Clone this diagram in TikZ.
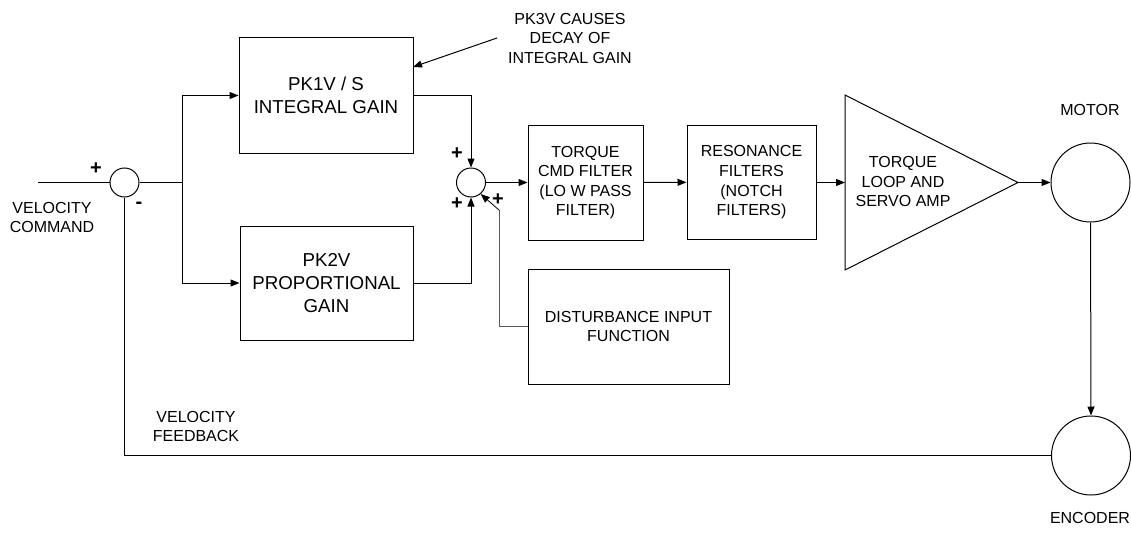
\documentclass[tikz,border=0pt]{standalone}
\usepackage{fontspec}
\setmainfont{Liberation Sans}
\usetikzlibrary{arrows.meta,calc}
\begin{document}
\begin{tikzpicture}[x=1pt,y=-1pt,
  line width=1pt,
  >={Triangle[length=9pt,width=7pt]},
  blk/.style={draw,rectangle,inner sep=0pt,align=center,font=\fontsize{16}{19.6}\selectfont},
  bigblk/.style={blk,font=\fontsize{18.7}{23}\selectfont},
  sumj/.style={draw,circle,inner sep=0pt,minimum size=29pt},
  big/.style={draw,circle,inner sep=0pt,minimum size=79pt},
  lbl/.style={inner sep=0pt,align=center,font=\fontsize{16}{19.5}\selectfont},
  sgn/.style={inner sep=0pt,font=\fontsize{20}{20}\selectfont\bfseries}]
\useasboundingbox (0,0) rectangle (1131,535);

% blocks
\node[bigblk,minimum width=174pt,minimum height=115pt] (int) at (326,95.5) {PK1V / S\\INTEGRAL GAIN};
\node[bigblk,minimum width=173pt,minimum height=114pt] (prop) at (326.5,283) {PK2V\\PROPORTIONAL\\GAIN};
\node[blk,minimum width=115pt,minimum height=115pt] (tcmd) at (585.5,182.5) {TORQUE\\CMD FILTER\\(LO W PASS\\FILTER)};
\node[blk,minimum width=129pt,minimum height=114.5pt] (res) at (751.5,182.3) {RESONANCE\\FILTERS\\(NOTCH\\FILTERS)};
\node[blk,minimum width=201pt,minimum height=115pt] (dist) at (628.5,326.5) {DISTURBANCE INPUT\\FUNCTION};

% amplifier triangle
\coordinate (ampin) at (845,182.5);
\coordinate (ampout) at (1018,182.5);
\draw (845,95) -- (ampout) -- (845,270) -- cycle;
\node[lbl] (amptxt) at (903,181.5) {TORQUE\\LOOP AND\\SERVO AMP};

% junctions
\node[sumj] (s1) at (124.5,182.5) {};
\node[sumj] (s2) at (471,182.5) {};
\node[big] (motor) at (1090.5,182.5) {};
\node[big] (enc) at (1091,455.5) {};

% labels
\node[lbl] (vcmd) at (52,217.5) {VELOCITY\\COMMAND};
\node[lbl] (vfb) at (196,426.5) {VELOCITY\\FEEDBACK};
\node[lbl] (pk3) at (570,38) {PK3V CAUSES\\DECAY OF\\INTEGRAL GAIN};
\node[lbl] (mot) at (1090,110) {MOTOR};
\node[lbl] (encl) at (1090,518) {ENCODER};

% signs
\node[sgn] (p1) at (96,169) {+};
\node[sgn] (m1) at (139,205) {-};
\node[sgn] (p2) at (457,154) {+};
\node[sgn] (p3) at (457,204) {+};
\node[sgn] (p4) at (498,200) {+};

% connectors
\coordinate (vin) at (38,182.5);
\coordinate (split) at (182,182.5);
\coordinate (splitT) at (182,95.5);
\coordinate (splitB) at (182,283);
\draw (vin) -- (s1.west);
\draw (s1.east) -- (split);
\draw (splitT) -- (splitB);
\draw[->] (splitT) -- (int.west);
\draw[->] (splitB) -- (prop.west);
\draw[->] (int.east |- splitT) -| (s2.north);
\draw[->] (prop.east |- splitB) -| (s2.south);
\draw[->] (s2.east) -- (tcmd.west);
\draw[->] (tcmd.east) -- (res.west);
\draw[->] (res.east |- ampin) -- (ampin);
\draw[->] (ampout) -- (motor.west);
\draw[->] (motor.south) -- (enc.north);
\draw (enc.west) -| (s1.south);

% disturbance
\coordinate (dcorner) at (499,326.5);
\coordinate (dup) at (499,210);
\draw[gray!70!black,line width=0.8pt] (dist.west) -- (dcorner) -- (dup);
\draw[->,line width=0.8pt] (dup) -- (s2.-50);

% PK3V annotation arrow
\coordinate (pkfrom) at (497,38);
\coordinate (pkto) at (413,67);
\draw[->] (pkfrom) -- (pkto);
\end{tikzpicture}
\end{document}
